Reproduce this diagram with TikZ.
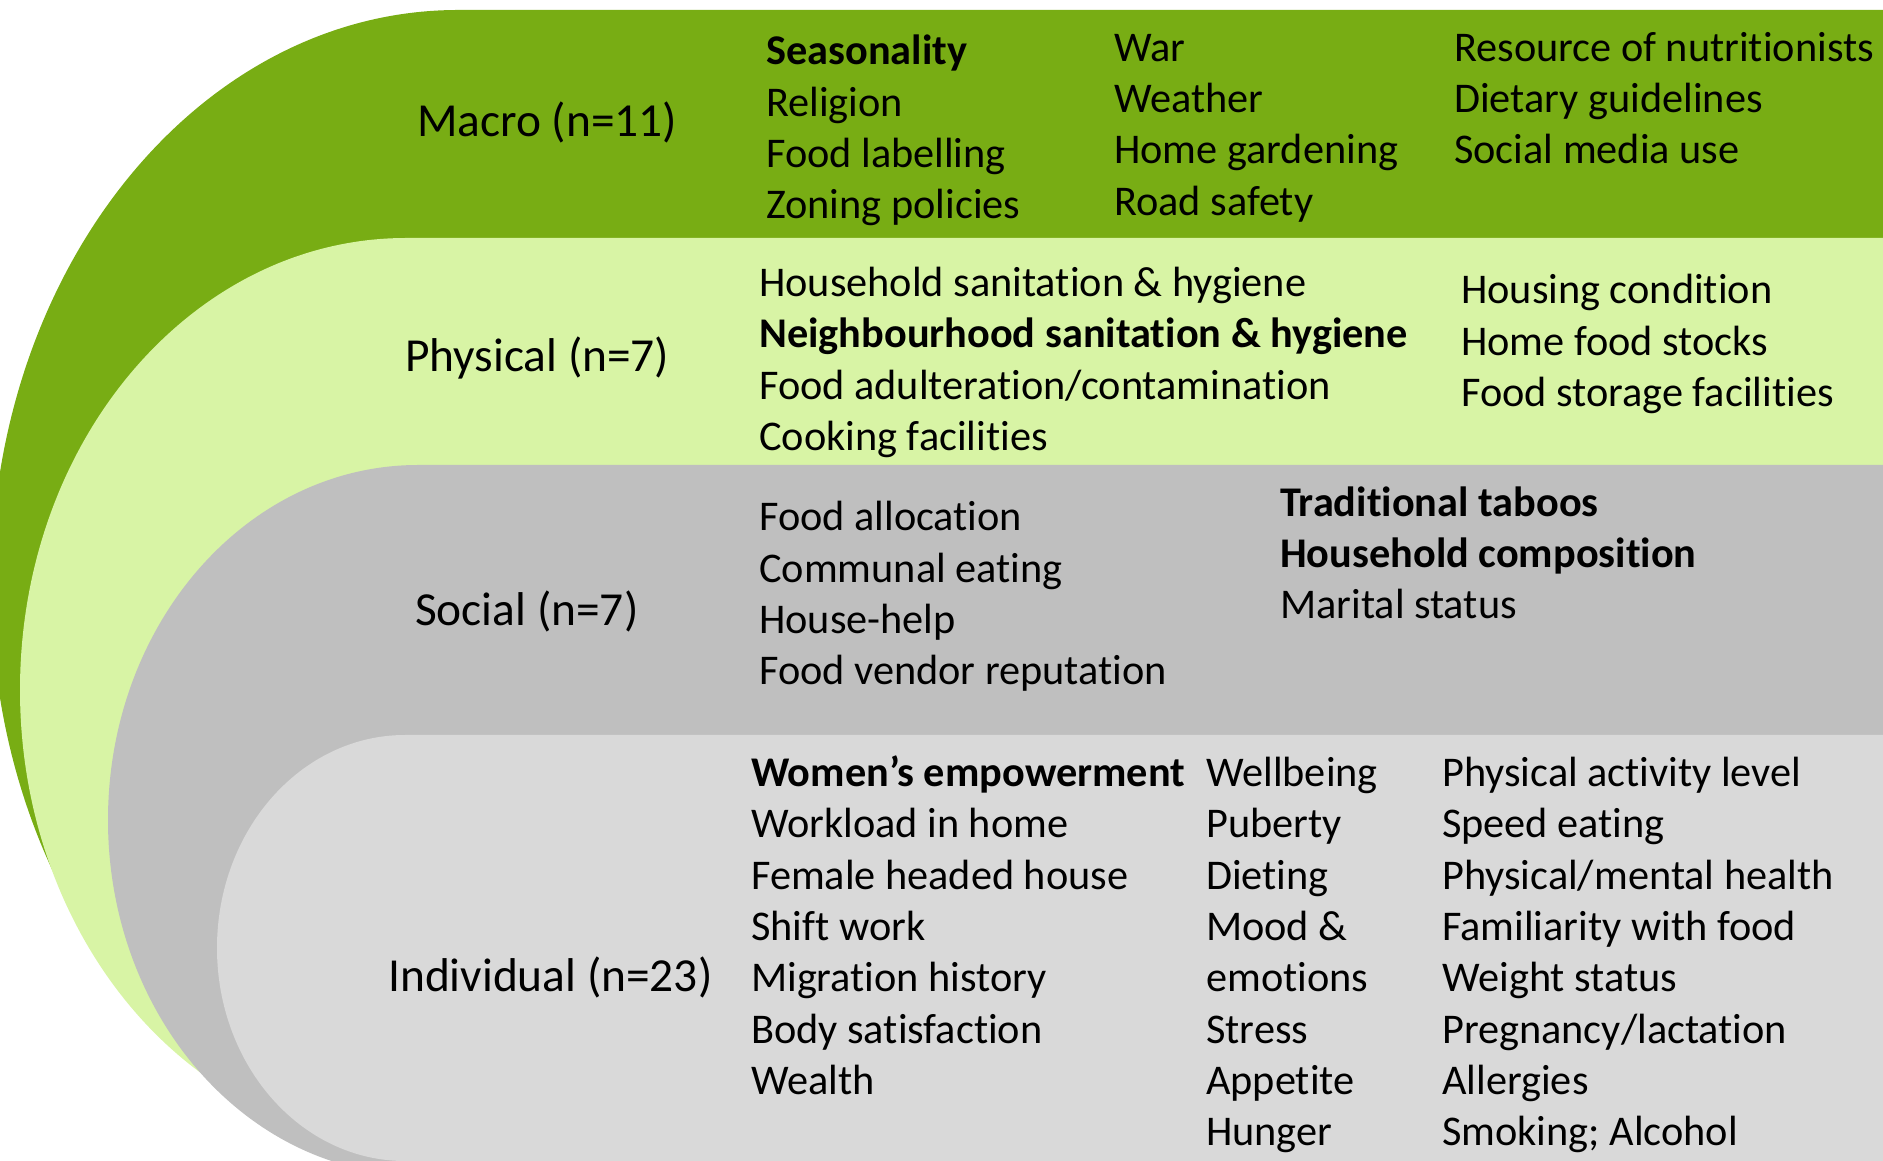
\documentclass[tikz,border=0pt]{standalone}
\usepackage{fontspec}
\setmainfont{Carlito}[Ligatures=NoCommon]
\definecolor{macrogreen}{RGB}{120,173,20}
\definecolor{physgreen}{RGB}{216,244,165}
\definecolor{socgrey}{RGB}{191,191,191}
\definecolor{indgrey}{RGB}{217,217,217}
\begin{document}
\begin{tikzpicture}[x=1pt,y=1pt,
  item/.style={anchor=base west, inner sep=0pt, font=\fontsize{42.3}{51.3}\selectfont},
  level/.style={anchor=base west, inner sep=0pt, font=\fontsize{47.4}{57}\selectfont}]
\useasboundingbox (0,0) rectangle (1883,1160);

% nested layers: each a band with a half-ellipse on its left side
\begin{scope}
  \clip (0,0) rectangle (1883,1160);
  \fill[macrogreen] (1883,1150) -- (458,1150)
    arc[start angle=90, end angle=270, x radius=467, y radius=575] -- (1883,0) -- cycle;
  \fill[physgreen] (1883,922) -- (406,922)
    arc[start angle=90, end angle=270, x radius=386, y radius=452] -- (1883,18) -- cycle;
  \fill[socgrey] (1883,695) -- (418,695)
    arc[start angle=90, end angle=270, x radius=310, y radius=355] -- (1883,-15) -- cycle;
  \fill[indgrey] (1883,425) -- (405,425)
    arc[start angle=90, end angle=270, x radius=188, y radius=213] -- (1883,-1) -- cycle;
\end{scope}

% level labels
\node[level] (macro) at (417,1023) {Macro (n=11)};
\node[level] (physical) at (405,788) {Physical (n=7)};
\node[level] (social) at (415,534) {Social (n=7)};
\node[level] (individual) at (388,168) {Individual (n=23)};

% macro factors
\foreach \t [count=\i from 0] in {\textbf{Seasonality}, Religion, Food labelling, Zoning policies}
  \node[item] (mac1-\i) at (766,{1095.2-51.3*\i}) {\t};
\foreach \t [count=\i from 0] in {War, Weather, Home gardening, Road safety}
  \node[item] (mac2-\i) at (1114,{1098.8-51.3*\i}) {\t};
\foreach \t [count=\i from 0] in {Resource of nutritionists, Dietary guidelines, Social media use}
  \node[item] (mac3-\i) at (1454,{1098.8-51.3*\i}) {\t};

% physical factors
\foreach \t [count=\i from 0] in {Household sanitation \& hygiene, \textbf{Neighbourhood sanitation \& hygiene}, Food adulteration/contamination, Cooking facilities}
  \node[item] (phy1-\i) at (759,{863.4-51.3*\i}) {\t};
\foreach \t [count=\i from 0] in {Housing condition, Home food stocks, Food storage facilities}
  \node[item] (phy2-\i) at (1461,{856.2-51.3*\i}) {\t};

% social factors
\foreach \t [count=\i from 0] in {Food allocation, Communal eating, House-help, Food vendor reputation}
  \node[item] (soc1-\i) at (759,{629.2-51.3*\i}) {\t};
\foreach \t [count=\i from 0] in {\textbf{Traditional taboos}, \textbf{Household composition}, Marital status}
  \node[item] (soc2-\i) at (1280,{643.6-51.3*\i}) {\t};

% individual factors
\foreach \t [count=\i from 0] in {\textbf{Women’s empowerment}, Workload in home, Female headed house, Shift work, Migration history, Body satisfaction, Wealth}
  \node[item] (ind1-\i) at (751,{373.4-51.3*\i}) {\t};
\foreach \t [count=\i from 0] in {Wellbeing, Puberty, Dieting, Mood \&, emotions, Stress, Appetite, Hunger}
  \node[item] (ind2-\i) at (1206,{373.4-51.3*\i}) {\t};
\foreach \t [count=\i from 0] in {Physical activity level, Speed eating, Physical/mental health, Familiarity with food, Weight status, Pregnancy/lactation, Allergies, Smoking; Alcohol}
  \node[item] (ind3-\i) at (1442,{373.4-51.3*\i}) {\t};
\end{tikzpicture}
\end{document}
